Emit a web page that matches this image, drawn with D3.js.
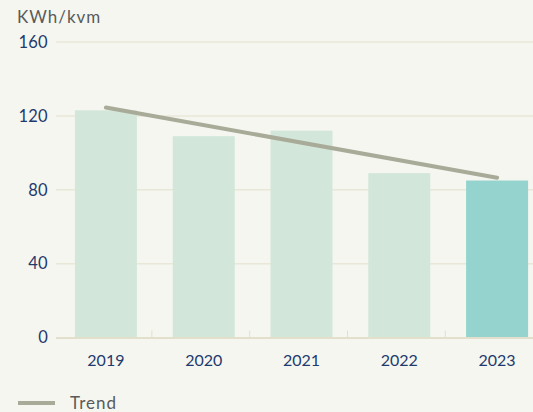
<!DOCTYPE html>
<html><head><meta charset="utf-8">
<script src="https://cdn.jsdelivr.net/npm/d3@7"></script>
<style>
html,body{margin:0;padding:0;background:#f5f6f0;}
svg{display:block;}
text{font-family:Lato,"Noto Sans",sans-serif;}
</style></head>
<body><div id="chart"></div>
<script>
const years = ["2019","2020","2021","2022","2023"];
const values = [123, 109, 112, 89, 85];
const highlightYear = "2023";
const trendYears = ["2019","2023"];
const trendValues = [124.5, 86.5];
const yTicks = [0, 40, 80, 120, 160];
const unitLabel = "KWh/kvm";
const legendLabel = "Trend";

const W = 533, H = 412;
const svg = d3.select("#chart").append("svg").attr("width", W).attr("height", H);
svg.append("rect").attr("width", W).attr("height", H).attr("fill", "#f5f6f0");

const y = d3.scaleLinear().domain([0, 160]).range([337.5, 42]);
const x = d3.scaleBand().domain(years).range([57, 546]).paddingInner(0.366).paddingOuter(0.183);
const step = x.step();
const cx = d => x(d) + x.bandwidth() / 2;

// grid
svg.append("g").selectAll("line").data(yTicks.filter(t => t > 0)).join("line")
  .attr("x1", 56).attr("x2", W).attr("y1", d => y(d)).attr("y2", d => y(d))
  .attr("stroke", "#e8e7d8").attr("stroke-width", 1.5);

// y labels
svg.append("g").selectAll("text").data(yTicks).join("text")
  .attr("x", 48).attr("y", d => y(d)).attr("dy", "0.35em")
  .attr("text-anchor", "end").attr("fill", "#1e3a6e").attr("font-size", 16.5)
  .attr("letter-spacing", 0.3)
  .text(d => d);

// bars
svg.append("g").selectAll("rect").data(years).join("rect")
  .attr("x", d => x(d)).attr("width", x.bandwidth())
  .attr("y", (d, i) => y(values[i])).attr("height", (d, i) => y(0) - y(values[i]))
  .attr("fill", d => d === highlightYear ? "#94d3ce" : "#d2e6d9");

// axis line
svg.append("line").attr("x1", 56).attr("x2", W).attr("y1", y(0) + 0.5).attr("y2", y(0) + 0.5)
  .attr("stroke", "#e2dfcd").attr("stroke-width", 2);
// category ticks
svg.append("g").selectAll("line").data(years.slice(0, -1)).join("line")
  .attr("x1", d => cx(d) + step * 0.47).attr("x2", d => cx(d) + step * 0.47)
  .attr("y1", y(0)).attr("y2", y(0) - 7)
  .attr("stroke", "#e2dfcd").attr("stroke-width", 1);

// x labels
svg.append("g").selectAll("text").data(years).join("text")
  .attr("x", d => cx(d)).attr("y", 366)
  .attr("text-anchor", "middle").attr("fill", "#1e3a6e").attr("font-size", 16)
  .text(d => d);

// trend
const line = d3.line().x((d, i) => cx(trendYears[i])).y(d => y(d));
svg.append("path").datum(trendValues).attr("d", line)
  .attr("fill", "none").attr("stroke", "#a9ab99").attr("stroke-width", 4).attr("stroke-linecap", "round");

// unit label
svg.append("text").attr("x", 17).attr("y", 23).attr("fill", "#5a5a5a").attr("font-size", 17)
  .attr("letter-spacing", 1).text(unitLabel);

// legend
svg.append("line").attr("x1", 18).attr("x2", 55).attr("y1", 403).attr("y2", 403)
  .attr("stroke", "#a9ab99").attr("stroke-width", 4);
svg.append("text").attr("x", 70).attr("y", 409).attr("fill", "#5a5a5a").attr("font-size", 17)
  .attr("letter-spacing", 1).text(legendLabel);
</script></body></html>
